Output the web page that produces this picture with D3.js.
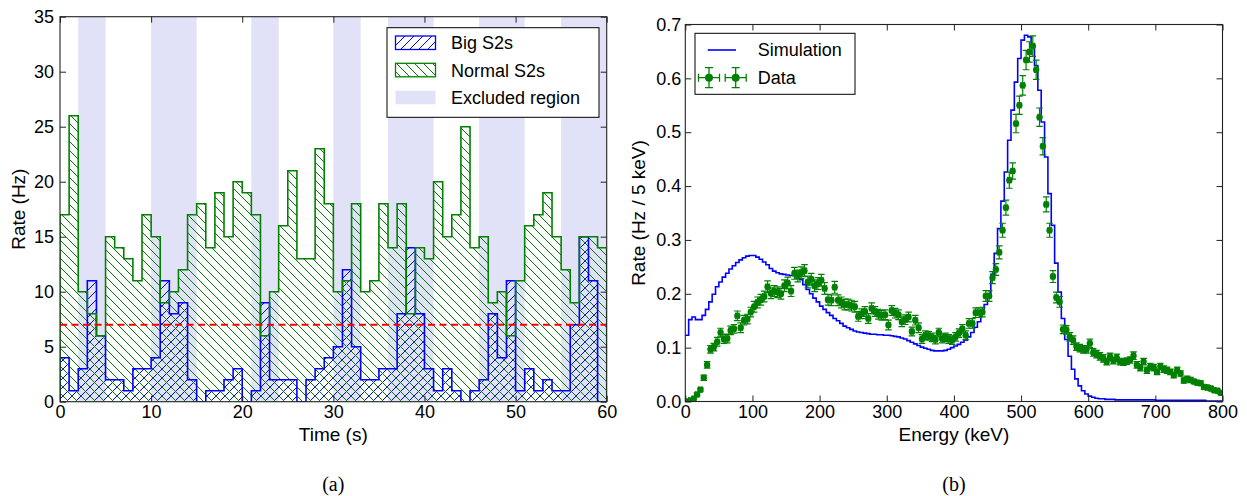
<!DOCTYPE html>
<html><head><meta charset="utf-8">
<script src="https://cdn.jsdelivr.net/npm/d3@7"></script>
<style>
body{margin:0;background:#fff}
svg{display:block}
text{font-family:"Liberation Sans",Arial,Helvetica,sans-serif;fill:#000}
.serif{font-family:"Liberation Serif","Times New Roman",serif}
</style>
</head><body>
<svg id="c" width="1247" height="496"></svg>
<script>
// ---------------- DATA (panel a) ----------------
const timeBinStarts = d3.range(0, 60);           // 1 s bins, start times (s)
const bigS2Rate = [4,1,3,11,6,2,2,1,3,3, 4,11,8,9,2,0,1,1,2,3, 0,1,9,2,2,2,0,2,3,4,
                   5,12,5,2,2,3,3,8,14,8, 3,1,3,1,0,1,2,8,4,11, 1,3,1,2,1,1,7,15,11,0];
const normalS2Rate = [17,26,10,8,6,15,14,13,11,17, 15,9,10,12,17,18,14,19,15,20,
                      19,17,6,10,16,21,13,13,23,18, 10,11,18,10,11,18,14,18,8,14,
                      13,20,15,17,25,14,15,9,10,6, 11,16,17,19,15,12,9,15,15,14];
const excludedRegions = [[2,5],[10,15],[21,24],[30,33],[36,41],[46,51],[55,60]];
const rateThreshold = 7;
const timeTicks = [0,10,20,30,40,50,60];
const rateTicks = [0,5,10,15,20,25,30,35];
const legendA = ["Big S2s","Normal S2s","Excluded region"];

// ---------------- DATA (panel b) ----------------
const energyBinStarts = d3.range(0, 800, 5);     // 5 keV bins
const simulationRate = [
0.123,0.152,0.157,0.152,0.152,0.160,0.171,0.185,0.199,0.213,
0.222,0.231,0.238,0.246,0.252,0.258,0.263,0.267,0.270,0.271,
0.271,0.268,0.264,0.259,0.254,0.247,0.242,0.239,0.237,0.236,
0.235,0.234,0.234,0.232,0.226,0.217,0.208,0.200,0.192,0.185,
0.177,0.171,0.165,0.160,0.154,0.150,0.145,0.140,0.137,0.134,
0.131,0.129,0.128,0.127,0.126,0.125,0.125,0.124,0.124,0.123,
0.123,0.122,0.121,0.120,0.118,0.116,0.113,0.110,0.107,0.104,
0.101,0.099,0.097,0.095,0.094,0.094,0.094,0.095,0.097,0.100,
0.103,0.106,0.110,0.114,0.120,0.128,0.138,0.148,0.165,0.180,
0.200,0.236,0.275,0.321,0.372,0.426,0.485,0.541,0.593,0.637,
0.671,0.680,0.677,0.661,0.624,0.578,0.519,0.454,0.386,0.327,
0.257,0.203,0.154,0.115,0.084,0.060,0.042,0.029,0.020,0.014,
0.010,0.008,0.006,0.005,0.005,0.004,0.004,0.004,0.003,0.003,
0.003,0.003,0.003,0.003,0.003,0.003,0.003,0.003,0.003,0.003,
0.002,0.002,0.002,0.002,0.002,0.002,0.002,0.002,0.002,0.002,
0.002,0.002,0.002,0.002,0.002,0.001,0.001,0.001,0.001,0.001];
const dataRate = [
0.000,0.002,0.005,0.013,0.022,0.044,0.068,0.097,0.101,0.111,
0.128,0.116,0.117,0.132,0.135,0.159,0.137,0.151,0.153,0.166,
0.176,0.184,0.189,0.195,0.213,0.201,0.205,0.203,0.200,0.215,
0.220,0.205,0.238,0.233,0.239,0.243,0.222,0.227,0.215,0.219,
0.225,0.210,0.189,0.188,0.212,0.188,0.184,0.180,0.180,0.178,
0.176,0.158,0.163,0.167,0.154,0.173,0.167,0.162,0.160,0.161,
0.142,0.169,0.164,0.161,0.148,0.152,0.157,0.130,0.151,0.137,
0.116,0.123,0.122,0.119,0.115,0.128,0.117,0.119,0.116,0.114,
0.120,0.127,0.135,0.123,0.145,0.145,0.165,0.165,0.166,0.196,
0.196,0.230,0.245,0.277,0.318,0.360,0.411,0.428,0.516,0.550,
0.587,0.634,0.649,0.660,0.616,0.528,0.474,0.366,0.318,0.232,
0.193,0.185,0.134,0.133,0.120,0.114,0.102,0.099,0.097,0.097,
0.108,0.091,0.088,0.084,0.080,0.074,0.083,0.076,0.081,0.074,
0.073,0.075,0.077,0.085,0.068,0.063,0.074,0.058,0.065,0.063,
0.055,0.065,0.060,0.058,0.055,0.049,0.058,0.052,0.039,0.042,
0.040,0.037,0.035,0.034,0.027,0.026,0.024,0.021,0.020,0.016];
const dataError = [
0.001,0.001,0.002,0.003,0.003,0.005,0.006,0.007,0.007,0.008,
0.008,0.008,0.008,0.008,0.008,0.009,0.009,0.009,0.009,0.009,
0.010,0.010,0.010,0.010,0.011,0.010,0.010,0.010,0.010,0.011,
0.011,0.010,0.011,0.011,0.011,0.011,0.011,0.011,0.011,0.011,
0.011,0.011,0.010,0.010,0.011,0.010,0.010,0.010,0.010,0.010,
0.010,0.009,0.009,0.009,0.009,0.010,0.009,0.009,0.009,0.009,
0.009,0.009,0.009,0.009,0.009,0.009,0.009,0.008,0.009,0.009,
0.008,0.008,0.008,0.008,0.008,0.008,0.008,0.008,0.008,0.008,
0.008,0.008,0.008,0.008,0.009,0.009,0.009,0.009,0.009,0.010,
0.010,0.011,0.011,0.012,0.013,0.014,0.015,0.015,0.017,0.017,
0.018,0.018,0.019,0.019,0.018,0.017,0.016,0.014,0.013,0.011,
0.010,0.010,0.008,0.008,0.008,0.008,0.007,0.007,0.007,0.007,
0.008,0.007,0.007,0.007,0.007,0.006,0.007,0.006,0.007,0.006,
0.006,0.006,0.006,0.007,0.006,0.006,0.006,0.006,0.006,0.006,
0.005,0.006,0.006,0.006,0.005,0.005,0.006,0.005,0.005,0.005,
0.005,0.004,0.004,0.004,0.004,0.004,0.004,0.003,0.003,0.003];
const energyTicks = [0,100,200,300,400,500,600,700,800];
const rateTicksB = [0,0.1,0.2,0.3,0.4,0.5,0.6,0.7];
const legendB = ["Simulation","Data"];

// ---------------- STYLE ----------------
const BLUE = "#0000ff", GREEN = "#008000", BAND = "#e1e1f8", RED = "#ff0000";
const svg = d3.select("#c");
const defs = svg.append("defs");

function hatch(id, color, dir, s){
  const p = defs.append("pattern").attr("id", id).attr("patternUnits","userSpaceOnUse")
    .attr("width", s).attr("height", s);
  const d = dir === "/" ?
    `M-1,1 l2,-2 M0,${s} l${s},${-s} M${s-1},${s+1} l2,-2` :
    `M-1,${s-1} l2,2 M0,0 l${s},${s} M${s-1},-1 l2,2`;
  p.append("path").attr("d", d).attr("stroke", color).attr("stroke-width", 1).attr("fill","none");
}
hatch("hBlue", BLUE, "/", 9);
hatch("hGreen", GREEN, "\\", 9);

function frame(g, x, y, xt, yt, xfmt, yfmt, padY){
  const [x0,x1] = x.range(), [y0,y1] = y.range();
  const tl = 6;
  const ax = g.append("g").attr("transform",`translate(0,${y0})`)
    .call(d3.axisBottom(x).tickValues(xt).tickFormat(xfmt).tickSizeInner(-tl).tickSizeOuter(0).tickPadding(4));
  const axT = g.append("g").attr("transform",`translate(0,${y1})`)
    .call(d3.axisTop(x).tickValues(xt).tickFormat("").tickSizeInner(-tl).tickSizeOuter(0));
  const ay = g.append("g").attr("transform",`translate(${x0},0)`)
    .call(d3.axisLeft(y).tickValues(yt).tickFormat(yfmt).tickSizeInner(-tl).tickSizeOuter(0).tickPadding(padY));
  const ayR = g.append("g").attr("transform",`translate(${x1},0)`)
    .call(d3.axisRight(y).tickValues(yt).tickFormat("").tickSizeInner(-tl).tickSizeOuter(0));
  [ax,axT,ay,ayR].forEach(a=>{
    a.select(".domain").remove();
    a.selectAll(".tick line").attr("stroke","#222").attr("stroke-width",1);
    a.selectAll("text").attr("font-size",18).attr("font-family",'"Liberation Sans",Arial,sans-serif').attr("fill","#000");
  });
  g.append("rect").attr("x",x0).attr("y",y1).attr("width",x1-x0).attr("height",y0-y1)
    .attr("fill","none").attr("stroke","#222").attr("stroke-width",1.1);
}

// ================= PANEL A =================
const xA = d3.scaleLinear().domain([0,60]).range([60,606.7]);
const yA = d3.scaleLinear().domain([0,35]).range([401.7,16.7]);
defs.append("clipPath").attr("id","clipA").append("rect")
  .attr("x",60).attr("y",16.7).attr("width",546.7).attr("height",385);
const gA = svg.append("g");
const pA = gA.append("g").attr("clip-path","url(#clipA)");

pA.selectAll("rect.band").data(excludedRegions).join("rect").attr("class","band")
  .attr("x",d=>xA(d[0])).attr("width",d=>xA(d[1])-xA(d[0]))
  .attr("y",yA(35)).attr("height",yA(0)-yA(35)).attr("fill",BAND);

function stepPts(vals){
  const pts = timeBinStarts.map((t,i)=>({t, v: vals[i]}));
  pts.push({t: 60, v: vals[vals.length-1]});
  return pts;
}
const areaA = d3.area().x(d=>xA(d.t)).y0(yA(0)).y1(d=>yA(d.v)).curve(d3.curveStepAfter);
const lineA = d3.line().x(d=>xA(d.t)).y(d=>yA(d.v)).curve(d3.curveStepAfter);
function outlinePts(vals){
  return [{t:0,v:0}, ...stepPts(vals), {t:60,v:0}];
}
pA.append("path").attr("d", areaA(stepPts(bigS2Rate))).attr("fill","url(#hBlue)");
pA.append("path").attr("d", areaA(stepPts(normalS2Rate))).attr("fill","url(#hGreen)");
pA.append("path").attr("d", lineA(outlinePts(bigS2Rate))).attr("fill","none")
  .attr("stroke",BLUE).attr("stroke-width",1.6).attr("stroke-linejoin","miter");
pA.append("path").attr("d", lineA(outlinePts(normalS2Rate))).attr("fill","none")
  .attr("stroke",GREEN).attr("stroke-width",1.6).attr("stroke-linejoin","miter");
pA.append("line").attr("x1",xA(0)).attr("x2",xA(60)).attr("y1",yA(rateThreshold)).attr("y2",yA(rateThreshold))
  .attr("stroke",RED).attr("stroke-width",2).attr("stroke-dasharray","7,4.5");

frame(gA, xA, yA, timeTicks, rateTicks, d3.format("d"), d3.format("d"), 6);

// legend A
const lgA = gA.append("g");
lgA.append("rect").attr("x",387).attr("y",27.7).attr("width",212).attr("height",89.6)
  .attr("fill","#fff").attr("stroke","#000").attr("stroke-width",1);
const lgRowsY = [36, 63.3, 90.7];
const lgFill = ["url(#hBlue)","url(#hGreen)",BAND];
const lgStroke = [BLUE, GREEN, "none"];
legendA.forEach((lab,i)=>{
  lgA.append("rect").attr("x",395.5).attr("y",lgRowsY[i]).attr("width",40).attr("height",13.5)
    .attr("fill",lgFill[i]).attr("stroke",lgStroke[i]).attr("stroke-width",1.3);
  lgA.append("text").attr("x",451).attr("y",lgRowsY[i]+6.9).attr("dy","0.35em")
    .attr("font-size",18).text(lab);
});

gA.append("text").attr("x",333.3).attr("y",440.7).attr("text-anchor","middle").attr("font-size",19).text("Time (s)");
gA.append("text").attr("transform",`translate(25,209.2) rotate(-90)`).attr("text-anchor","middle")
  .attr("font-size",19).text("Rate (Hz)");
gA.append("text").attr("class","serif").attr("x",333.3).attr("y",490.7).attr("text-anchor","middle")
  .attr("font-size",20).text("(a)");

// ================= PANEL B =================
const xB = d3.scaleLinear().domain([0,800]).range([685.3,1222.5]);
const yB = d3.scaleLinear().domain([0,0.7]).range([401.5,24.5]);
defs.append("clipPath").attr("id","clipB").append("rect")
  .attr("x",685.3).attr("y",24.5).attr("width",537.2).attr("height",377);
const gB = svg.append("g");
const pB = gB.append("g").attr("clip-path","url(#clipB)");

const simPts = energyBinStarts.map((e,i)=>({e, v: simulationRate[i]}));
simPts.push({e: 800, v: simulationRate[simulationRate.length-1]});
pB.append("path").attr("d", d3.line().x(d=>xB(d.e)).y(d=>yB(d.v)).curve(d3.curveStepAfter)(simPts))
  .attr("fill","none").attr("stroke",BLUE).attr("stroke-width",1.6);

const pts = energyBinStarts.map((e,i)=>({e: e+2.5, lo: e, hi: e+5, v: dataRate[i], err: dataError[i]}));
const capH = 3.3;
const eb = pB.append("g").attr("stroke",GREEN).attr("stroke-width",1.2).attr("fill","none");
pts.forEach(d=>{
  const cx = xB(d.e), cy = yB(d.v), yt = yB(d.v + d.err), yb = yB(d.v - d.err);
  const xl = xB(d.lo), xr = xB(d.hi);
  eb.append("path").attr("d",
    `M${cx},${yt}V${yb}M${cx-capH},${yt}H${cx+capH}M${cx-capH},${yb}H${cx+capH}` +
    `M${xl},${cy}H${xr}M${xl},${cy-capH}V${cy+capH}M${xr},${cy-capH}V${cy+capH}`);
});
pB.append("g").selectAll("circle").data(pts).join("circle")
  .attr("cx",d=>xB(d.e)).attr("cy",d=>yB(d.v)).attr("r",3.2).attr("fill",GREEN);

frame(gB, xB, yB, energyTicks, rateTicksB, d3.format("d"), d3.format(".1f"), 4);

// legend B
const lgB = gB.append("g");
lgB.append("rect").attr("x",695).attr("y",33.3).attr("width",160).attr("height",61)
  .attr("fill","#fff").attr("stroke","#000").attr("stroke-width",1);
lgB.append("line").attr("x1",707.7).attr("x2",736).attr("y1",50).attr("y2",50)
  .attr("stroke",BLUE).attr("stroke-width",1.6);
lgB.append("text").attr("x",757.7).attr("y",50).attr("dy","0.35em").attr("font-size",18).text(legendB[0]);
[709,735.7].forEach(cx=>{
  const cy = 77.7;
  lgB.append("path").attr("d",
    `M${cx},${cy-10}V${cy+10}M${cx-4},${cy-10}H${cx+4}M${cx-4},${cy+10}H${cx+4}` +
    `M${cx-10.5},${cy}H${cx+10.5}M${cx-10.5},${cy-4}V${cy+4}M${cx+10.5},${cy-4}V${cy+4}`)
    .attr("stroke",GREEN).attr("stroke-width",1.3).attr("fill","none");
  lgB.append("circle").attr("cx",cx).attr("cy",cy).attr("r",4).attr("fill",GREEN);
});
lgB.append("text").attr("x",757.7).attr("y",77.7).attr("dy","0.35em").attr("font-size",18).text(legendB[1]);

gB.append("text").attr("x",953.9).attr("y",440.7).attr("text-anchor","middle").attr("font-size",19).text("Energy (keV)");
gB.append("text").attr("transform",`translate(645,213) rotate(-90)`).attr("text-anchor","middle")
  .attr("font-size",19).text("Rate (Hz / 5 keV)");
gB.append("text").attr("class","serif").attr("x",953.9).attr("y",490.7).attr("text-anchor","middle")
  .attr("font-size",20).text("(b)");
</script>
</body></html>
